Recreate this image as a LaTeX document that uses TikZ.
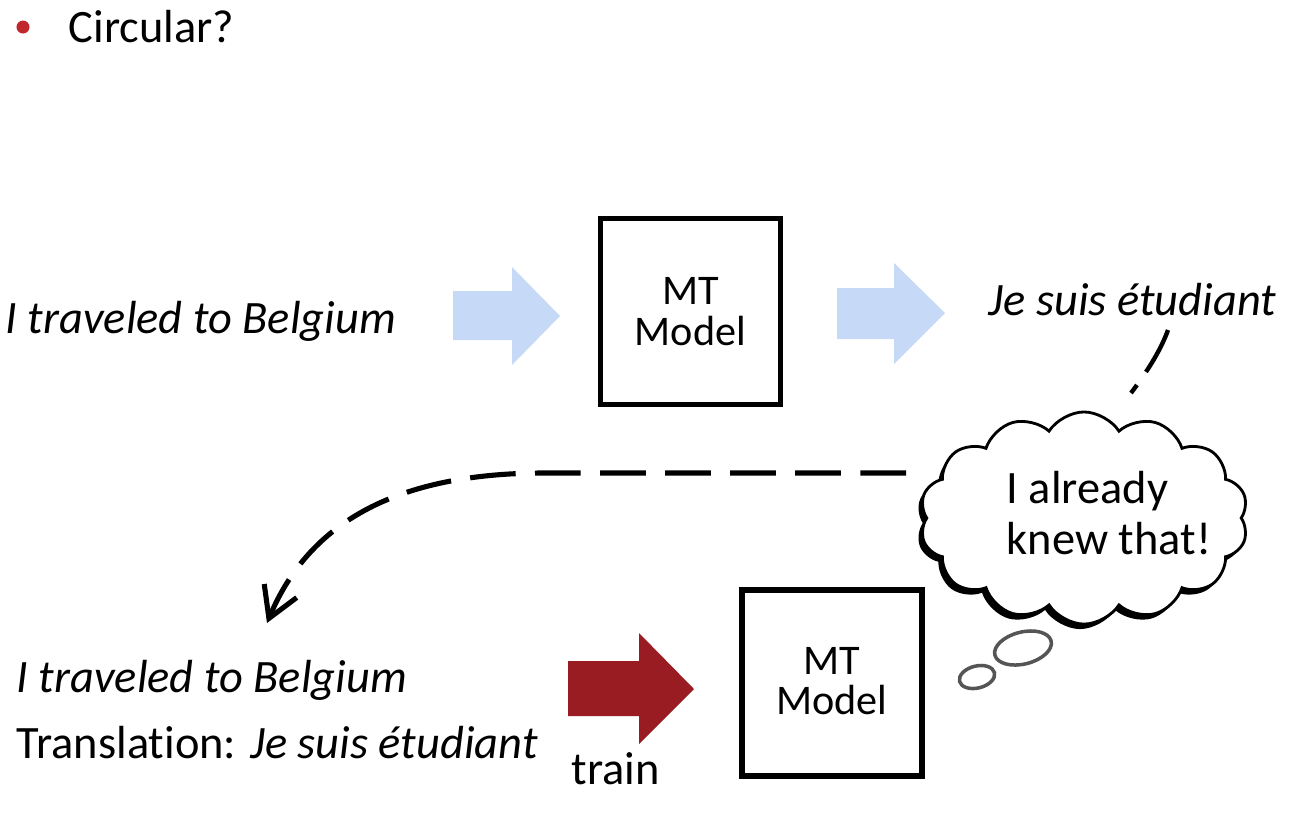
\documentclass[tikz,border=0pt]{standalone}
\usepackage{fontspec}
\setmainfont{Carlito}[Ligatures={NoCommon,NoRare,NoDiscretionary}]
\usetikzlibrary{shapes.symbols,shapes.geometric,arrows.meta}
\definecolor{lblue}{HTML}{C6DAF8}
\definecolor{dred}{HTML}{9A1C23}
\definecolor{bred}{HTML}{C0282D}
\definecolor{bubgray}{HTML}{555555}
\begin{document}
\begin{tikzpicture}[x=0.01cm,y=-0.01cm,
  txt/.style={inner sep=0, font=\fontsize{13.2}{16}\selectfont},
  boxtxt/.style={inner sep=0, font=\fontsize{12}{14}\selectfont},
  mtbox/.style={draw, line width=1.6pt, minimum width=1.80cm, minimum height=1.86cm, inner sep=0},
  blockarrow/.style={fill=lblue},
  thought/.style={cloud, cloud puffs=14, cloud puff arc=115, aspect=1.57, minimum width=3.28cm, minimum height=2.12cm, inner sep=0},
  bubble/.style={draw=bubgray, line width=1pt},
  conn/.style={line width=1.45pt, dash pattern=on 13pt off 5.5pt, -{Straight Barb[length=8.5pt,width=10pt]}},
]
\useasboundingbox (0,0) rectangle (1300,832);
\fill[white] (0,0) rectangle (1300,832);

% title
\node[circle, fill=bred, minimum size=0.13cm, inner sep=0] (bul) at (23,27) {};
\node[txt, anchor=base west] (title) at (68,42) {Circular?};

% top row
\node[txt, anchor=base west] (src1) at (5,333) {\itshape I traveled to Belgium};
\fill[blockarrow] (453,291) -- (512,291) -- (512,267) -- (560,316) -- (512,365) -- (512,340) -- (453,340) -- cycle;
\node[mtbox] (m1) at (690.5,311.5) {};
\node[boxtxt, anchor=base] (m1a) at (690.5,304) {MT};
\node[boxtxt, anchor=base] (m1b) at (690.5,345) {Model};
\fill[blockarrow] (837,288) -- (894,288) -- (894,263) -- (945,313) -- (894,364) -- (894,339) -- (837,339) -- cycle;
\node[txt, anchor=base west] (tgt1) at (988,315) {\itshape Je suis étudiant};

% thought cloud
\node[thought, fill=black] (cloudsh) at (1080,523) {};
\node[thought, fill=white, draw=black, line width=0.8pt] (cloud) at (1084,518) {};
\node[txt, anchor=base west] (c1) at (1006,503) {I already};
\node[txt, anchor=base west] (c2) at (1006,554) {knew that!};
\draw[bubble] (1023,648) ellipse [x radius=29, y radius=16, rotate=14];
\draw[bubble] (977,677) ellipse [x radius=18, y radius=11, rotate=14];

% tail from translation to cloud
\coordinate (tailA) at (1168,330);
\coordinate (tailB) at (1131,393);
\draw[line width=1.25pt, dash pattern=on 13.5pt off 4.5pt on 3pt] (tailA) .. controls (1160,352) and (1146,373) .. (tailB);

% dashed feedback connector
\coordinate (dstart) at (906,473);
\coordinate (dmid) at (540,473);
\coordinate (dend) at (267,623);
\draw[conn] (dstart) -- (dmid) .. controls (400,474) and (310,520) .. (dend);

% bottom row
\node[txt, anchor=base west] (src2) at (16,692) {\itshape I traveled to Belgium};
\node[txt, anchor=base west] (src3) at (16,758) {Translation:\kern0.3em{\itshape Je suis étudiant}};
\fill[dred] (568,661) -- (639,661) -- (639,633) -- (694,689) -- (639,744) -- (639,716) -- (568,716) -- cycle;
\node[txt, anchor=base west] (train) at (571,784) {train};
\node[mtbox] (m2) at (832,683) {};
\node[boxtxt, anchor=base] (m2a) at (832,674) {MT};
\node[boxtxt, anchor=base] (m2b) at (832,714) {Model};
\end{tikzpicture}
\end{document}
